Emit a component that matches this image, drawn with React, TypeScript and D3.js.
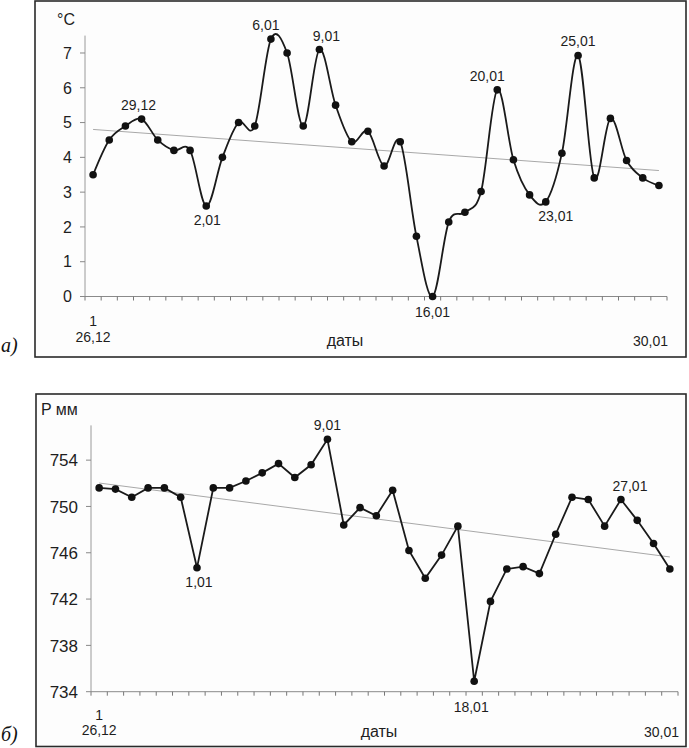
import React from 'react';
import * as d3 from 'd3';

// ---------- DATA ----------
const dates = [
  '26,12', '27,12', '28,12', '29,12', '30,12', '31,12',
  '1,01', '2,01', '3,01', '4,01', '5,01', '6,01', '7,01', '8,01', '9,01', '10,01',
  '11,01', '12,01', '13,01', '14,01', '15,01', '16,01', '17,01', '18,01', '19,01', '20,01',
  '21,01', '22,01', '23,01', '24,01', '25,01', '26,01', '27,01', '28,01', '29,01', '30,01',
];

const temperature = [
  3.5, 4.5, 4.9, 5.1, 4.5, 4.2, 4.2, 2.6, 4.0, 5.0,
  4.9, 7.4, 7.0, 4.9, 7.1, 5.5, 4.45, 4.75, 3.75, 4.45,
  1.73, 0.0, 2.14, 2.42, 3.02, 5.94, 3.93, 2.92, 2.72, 4.12,
  6.93, 3.41, 5.12, 3.91, 3.41, 3.19,
];

const pressure = [
  751.6, 751.5, 750.8, 751.6, 751.6, 750.8, 744.7, 751.6, 751.6, 752.2,
  752.9, 753.7, 752.5, 753.6, 755.8, 748.4, 749.9, 749.2, 751.4, 746.2,
  743.8, 745.8, 748.3, 734.9, 741.8, 744.6, 744.8, 744.2, 747.6, 750.8,
  750.6, 748.3, 750.6, 748.8, 746.8, 744.6,
];

const tempTicks = [0, 1, 2, 3, 4, 5, 6, 7];
const pressTicks = [734, 738, 742, 746, 750, 754];

// annotated points: [date label, placement]
const tempNotes: [string, string][] = [
  ['29,12', 'above'], ['2,01', 'below'], ['6,01', 'above'], ['9,01', 'above'],
  ['16,01', 'axis'], ['20,01', 'above'], ['23,01', 'below'], ['25,01', 'above'],
];
const pressNotes: [string, string][] = [
  ['1,01', 'below'], ['9,01', 'above'], ['18,01', 'axis'], ['27,01', 'above'],
];

// ---------- LAYOUT ----------
const FONT = 'Liberation Sans, Arial, sans-serif';
const INK = '#1e1e1e';

type Panel = {
  values: number[];
  ticks: number[];
  domain: [number, number];
  notes: [string, string][];
  smooth: boolean;
  unit: string;
  letter: string;
  frame: { x: number; y: number; w: number; h: number };
  xRange: [number, number];
  yRange: [number, number];
  unitPos: [number, number];
  firstBase: [number, number];
  lastBase: number;
  datyX: number;
  letterY: number;
  tickFont: number;
  noteDx: Record<string, number>;
};

const panels: Panel[] = [
  {
    values: temperature,
    ticks: tempTicks,
    domain: [0, 7.5],
    notes: tempNotes,
    smooth: true,
    unit: '°C',
    letter: 'а)',
    frame: { x: 35, y: 1, w: 651, h: 356 },
    xRange: [85, 667],
    yRange: [296.5, 35.6],
    unitPos: [57, 25],
    firstBase: [326, 342],
    lastBase: 346,
    datyX: 345,
    letterY: 352,
    tickFont: 16,
    noteDx: { '29,12': -3, '6,01': -5, '9,01': 7, '20,01': -10, '23,01': 10, '2,01': 1 },
  },
  {
    values: pressure,
    ticks: pressTicks,
    domain: [734, 757],
    notes: pressNotes,
    smooth: false,
    unit: 'P мм',
    letter: 'б)',
    frame: { x: 36, y: 394, w: 650, h: 352.5 },
    xRange: [91, 678],
    yRange: [691.7, 425.4],
    unitPos: [41, 415],
    firstBase: [720, 735],
    lastBase: 737,
    datyX: 379,
    letterY: 741,
    tickFont: 17,
    noteDx: { '27,01': 9, '18,01': -3, '1,01': 2 },
  },
];

function regression(vals: number[]) {
  const n = vals.length;
  const mx = d3.mean(vals.map((_, i) => i)) as number;
  const my = d3.mean(vals) as number;
  let sxy = 0, sxx = 0;
  vals.forEach((v, i) => { sxy += (i - mx) * (v - my); sxx += (i - mx) * (i - mx); });
  const b = sxy / sxx;
  const a = my - b * mx;
  return [a, a + b * (n - 1)];
}

function ChartPanel({ p }: { p: Panel }) {
  const x = d3.scaleBand<number>().domain(dates.map((_, i) => i)).range(p.xRange).padding(0);
  const cx = (i: number) => (x(i) as number) + x.bandwidth() / 2;
  const y = d3.scaleLinear().domain(p.domain).range(p.yRange);
  const line = d3.line<number>()
    .x((_, i) => cx(i))
    .y((v) => y(v))
    .curve(p.smooth ? d3.curveCardinal.tension(0) : d3.curveLinear);
  const [t0, t1] = regression(p.values);
  const n = dates.length;
  const boundaries = d3.range(n + 1).map((k) => p.xRange[0] + k * x.step());
  const yBottom = p.yRange[0];

  return (
    <g>
      <rect x={p.frame.x} y={p.frame.y} width={p.frame.w} height={p.frame.h}
        fill="#fdfdfd" stroke="#2a2a2a" strokeWidth={1.6} />
      {/* axes */}
      <line x1={p.xRange[0]} x2={p.xRange[0]} y1={yBottom} y2={p.yRange[1]} stroke="#9a9a9a" strokeWidth={1} />
      <line x1={p.xRange[0]} x2={p.xRange[1]} y1={yBottom} y2={yBottom} stroke="#8a8a8a" strokeWidth={1} />
      {boundaries.map((bx, k) => (
        <line key={'xt' + k} x1={bx} x2={bx} y1={yBottom} y2={yBottom + 4} stroke="#777" strokeWidth={1} />
      ))}
      {p.ticks.map((t) => (
        <g key={'yt' + t}>
          <line x1={p.xRange[0] - 5} x2={p.xRange[0]} y1={y(t)} y2={y(t)} stroke="#888" strokeWidth={1} />
          <text x={p.xRange[0] - 13} y={y(t)} dy="0.36em" textAnchor="end"
            fontFamily={FONT} fontSize={p.tickFont} fill={INK}>{t}</text>
        </g>
      ))}
      {/* trend */}
      <line x1={cx(0)} x2={cx(n - 1)} y1={y(t0)} y2={y(t1)} stroke="#a8a8a8" strokeWidth={1} />
      {/* series */}
      <path d={line(p.values) as string} fill="none" stroke="#1a1a1a" strokeWidth={1.8} />
      {p.values.map((v, i) => (
        <circle key={'pt' + i} cx={cx(i)} cy={y(v)} r={3.8} fill="#111" />
      ))}
      {/* annotations */}
      {p.notes.map(([lab, place]) => {
        const i = dates.indexOf(lab);
        const v = p.values[i];
        const dx = p.noteDx[lab] || 0;
        let ty = y(v) - 9;
        if (place === 'below') ty = y(v) + 19;
        if (place === 'axis') ty = yBottom + 20;
        return (
          <text key={'n' + lab} x={cx(i) + dx} y={ty} textAnchor="middle"
            fontFamily={FONT} fontSize={14} fill={INK}>{lab}</text>
        );
      })}
      {/* axis texts */}
      <text x={p.unitPos[0]} y={p.unitPos[1]} fontFamily={FONT} fontSize={16} fill={INK}>{p.unit}</text>
      <text x={cx(0)} y={p.firstBase[0]} textAnchor="middle" fontFamily={FONT} fontSize={14} fill={INK}>1</text>
      <text x={cx(0)} y={p.firstBase[1]} textAnchor="middle" fontFamily={FONT} fontSize={14} fill={INK}>{dates[0]}</text>
      <text x={p.datyX} y={p.lastBase} textAnchor="middle" fontFamily={FONT} fontSize={16} fill={INK}>даты</text>
      <text x={p.xRange[1] + 1} y={p.lastBase} textAnchor="end" fontFamily={FONT} fontSize={14} fill={INK}>{dates[n - 1]}</text>
      <text x={1} y={p.letterY} fontFamily="Liberation Serif, DejaVu Serif, serif" fontStyle="italic" fontSize={20} fill="#111">{p.letter}</text>
    </g>
  );
}

export default function App() {
  return (
    <svg width={689} height={748} viewBox="0 0 689 748"
      style={{ position: 'absolute', left: 0, top: 0, background: '#ffffff' }}>
      {panels.map((p, k) => <ChartPanel key={k} p={p} />)}
    </svg>
  );
}
